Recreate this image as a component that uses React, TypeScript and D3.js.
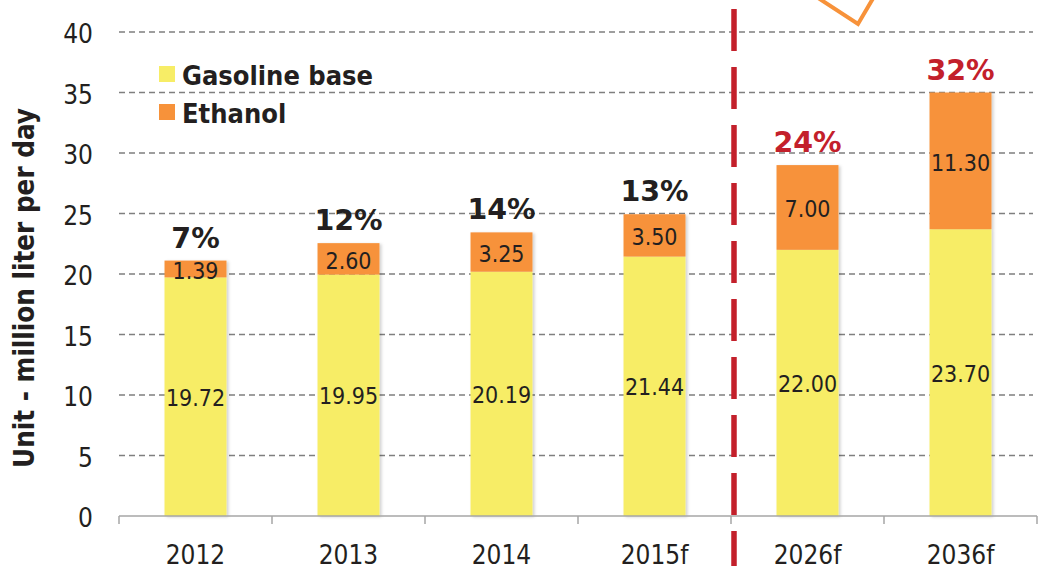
import React, { useEffect, useRef } from 'react';
import * as d3 from 'd3';

// chart data
const categories = ['2012', '2013', '2014', '2015f', '2026f', '2036f'];
const gasolineBase = [19.72, 19.95, 20.19, 21.44, 22.0, 23.7];
const ethanol = [1.39, 2.6, 3.25, 3.5, 7.0, 11.3];
const ethanolShare = ['7%', '12%', '14%', '13%', '24%', '32%'];
const isForecast = [false, false, false, false, true, true];
const yTicks = [0, 5, 10, 15, 20, 25, 30, 35, 40];
const seriesNames = ['Gasoline base', 'Ethanol'];

const W = 1041;
const H = 576;
const FONT = '"DejaVu Sans Condensed", "DejaVu Sans", sans-serif';
const FONT_WIDE = '"DejaVu Sans", sans-serif';
const YELLOW = '#f7ed66';
const ORANGE = '#f7923a';
const RED = '#c3202b';
const INK = '#231f20';

export default function App() {
  const svgRef = useRef<SVGSVGElement | null>(null);

  useEffect(() => {
    const svg = d3.select(svgRef.current);
    svg.selectAll('*').remove();

    const margin = { top: 32, right: 4, bottom: 60, left: 119 };

    const x = d3.scaleBand<string>()
      .domain(categories)
      .range([margin.left, W - margin.right])
      .padding(0);

    const y = d3.scaleLinear()
      .domain([0, 40])
      .range([H - margin.bottom, margin.top]);

    const barW = x.step() * 0.405;
    const barX = (c: string) => (x(c) as number) + (x.step() - barW) / 2;

    const defs = svg.append('defs');
    const f = defs.append('filter').attr('id', 'shadow')
      .attr('x', '-20%').attr('y', '-20%').attr('width', '140%').attr('height', '140%');
    f.append('feDropShadow')
      .attr('dx', 2).attr('dy', 1).attr('stdDeviation', 1.5)
      .attr('flood-color', '#000').attr('flood-opacity', 0.18);

    // gridlines
    svg.append('g')
      .selectAll('line')
      .data(yTicks.filter(t => t > 0))
      .join('line')
      .attr('x1', margin.left)
      .attr('x2', W - 8)
      .attr('y1', d => y(d))
      .attr('y2', d => y(d))
      .attr('stroke', '#7f7f7f')
      .attr('stroke-width', 1.5)
      .attr('stroke-dasharray', '6 4');

    // y tick labels
    svg.append('g')
      .selectAll('text')
      .data(yTicks)
      .join('text')
      .attr('x', 93)
      .attr('y', d => y(d) + 2)
      .attr('text-anchor', 'end')
      .attr('dominant-baseline', 'central')
      .style('font-family', FONT)
      .style('font-size', '26px')
      .attr('fill', INK)
      .text(d => d);

    // y title
    svg.append('text')
      .attr('transform', `translate(34, 288) rotate(-90)`)
      .attr('text-anchor', 'middle')
      .style('font-family', FONT)
      .style('font-size', '27.5px')
      .style('font-weight', 'bold')
      .attr('fill', INK)
      .text('Unit - million liter per day');

    // bars
    const rows = categories.map((c, i) => ({
      c,
      g: gasolineBase[i],
      e: ethanol[i],
      share: ethanolShare[i],
      forecast: isForecast[i],
    }));

    const bars = svg.append('g').attr('filter', 'url(#shadow)');
    bars.selectAll('rect.gas')
      .data(rows)
      .join('rect')
      .attr('class', 'gas')
      .attr('x', d => barX(d.c))
      .attr('width', barW)
      .attr('y', d => y(d.g))
      .attr('height', d => y(0) - y(d.g))
      .attr('fill', YELLOW);
    bars.selectAll('rect.eth')
      .data(rows)
      .join('rect')
      .attr('class', 'eth')
      .attr('x', d => barX(d.c))
      .attr('width', barW)
      .attr('y', d => y(d.g + d.e))
      .attr('height', d => y(d.g) - y(d.g + d.e))
      .attr('fill', ORANGE);

    // value labels
    const labels = svg.append('g')
      .style('font-family', FONT)
      .style('font-size', '23px')
      .attr('fill', INK)
      .attr('text-anchor', 'middle')
      .attr('dominant-baseline', 'central');
    labels.selectAll('text.gl')
      .data(rows)
      .join('text')
      .attr('x', d => barX(d.c) + barW / 2)
      .attr('y', d => (y(0) + y(d.g)) / 2 + 1)
      .text(d => d.g.toFixed(2));
    labels.selectAll('text.el')
      .data(rows)
      .join('text')
      .attr('x', d => barX(d.c) + barW / 2)
      .attr('y', d => (y(d.g) + y(d.g + d.e)) / 2 + 2)
      .text(d => d.e.toFixed(2));

    // share labels
    svg.append('g')
      .selectAll('text')
      .data(rows)
      .join('text')
      .attr('x', d => barX(d.c) + barW / 2)
      .attr('y', d => y(d.g + d.e) - 13)
      .attr('text-anchor', 'middle')
      .style('font-family', FONT_WIDE)
      .style('font-size', '28.5px')
      .style('font-weight', 'bold')
      .attr('fill', d => (d.forecast ? RED : INK))
      .text(d => d.share);

    // x axis
    const axis = svg.append('g').attr('stroke', '#a6a6a6').attr('stroke-width', 1.5);
    axis.append('line')
      .attr('x1', margin.left).attr('x2', W - margin.right)
      .attr('y1', y(0)).attr('y2', y(0));
    axis.selectAll('line.tick')
      .data([...categories.map(c => x(c) as number), W - margin.right])
      .join('line')
      .attr('class', 'tick')
      .attr('x1', d => d).attr('x2', d => d)
      .attr('y1', y(0)).attr('y2', y(0) + 8);

    svg.append('g')
      .selectAll('text')
      .data(categories)
      .join('text')
      .attr('x', d => (x(d) as number) + x.step() / 2)
      .attr('y', y(0) + 48)
      .attr('text-anchor', 'middle')
      .style('font-family', FONT)
      .style('font-size', '26px')
      .attr('fill', INK)
      .text(d => d);

    // forecast divider
    const firstForecast = categories[isForecast.indexOf(true)];
    const divX = (x(firstForecast) as number) + 3;
    svg.append('line')
      .attr('x1', divX).attr('x2', divX)
      .attr('y1', 9).attr('y2', 566)
      .attr('stroke', RED)
      .attr('stroke-width', 5.5)
      .attr('stroke-dasharray', '42 16');

    // arrow tip cut off at the top
    const ax = x(firstForecast) as number;
    const tipX = ax + x.step() * 0.83;
    const tipY = y(40.66);
    svg.append('path')
      .attr('d', `M${ax + x.step() * 0.53},${-6} L${tipX},${tipY} L${ax + x.step() * 0.945},${-6}`)
      .attr('fill', 'none')
      .attr('stroke', ORANGE)
      .attr('stroke-width', 4);

    // legend
    const leg = svg.append('g').attr('transform', 'translate(159, 66)');
    seriesNames.forEach((name, i) => {
      const g = leg.append('g').attr('transform', `translate(0, ${i * 38})`);
      g.append('rect').attr('width', 16).attr('height', 16)
        .attr('fill', i === 0 ? YELLOW : ORANGE);
      g.append('text')
        .attr('x', 23).attr('y', 19)
        .style('font-family', FONT)
        .style('font-size', '27px')
        .style('font-weight', 'bold')
        .attr('fill', INK)
        .text(name);
    });
  }, []);

  return (
    <svg
      ref={svgRef}
      width={W}
      height={H}
      style={{ position: 'absolute', left: 0, top: 0, background: '#fff' }}
    />
  );
}
